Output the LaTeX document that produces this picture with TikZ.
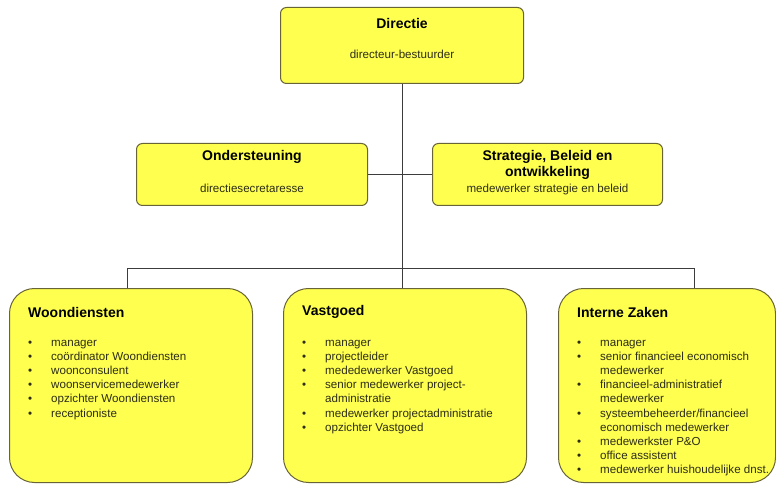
\documentclass[tikz,border=0pt]{standalone}
\usepackage{fontspec}
\setmainfont{Liberation Sans}
\usepackage{tikz}
\usetikzlibrary{positioning,calc}

\definecolor{boxyellow}{RGB}{255,255,80}
\definecolor{boxline}{RGB}{105,100,55}
\definecolor{wirecol}{RGB}{60,60,60}
\definecolor{txtcol}{RGB}{45,45,25}

\newcommand{\itemfont}{\fontsize{11.6}{14.2}\selectfont}

\begin{document}
\begin{tikzpicture}[%
    x=1pt,
    y=-1pt,
    unit/.style={draw=boxline, fill=boxyellow, line width=1pt, rounded corners=6pt,
      inner sep=0pt, anchor=north west},
    dept/.style={draw=boxline, fill=boxyellow, line width=1pt, rounded corners=25pt,
      inner sep=0pt, anchor=north west, minimum height=194pt},
    head/.style={font=\fontsize{14}{16}\selectfont\bfseries, inner sep=0pt, align=center},
    sub/.style={font=\itemfont, text=txtcol, inner sep=0pt},
    list/.style={font=\itemfont, text=txtcol, inner sep=0pt, anchor=north west},
    wire/.style={draw=wirecol, line width=0.9pt}
  ]
  \useasboundingbox (0,0) rectangle (776,486);

  % boxes
  \node[unit, minimum width=243pt, minimum height=76pt] (dir) at (280,7){};
  \node[unit, minimum width=231pt, minimum height=62pt] (ond) at (136,143){};
  \node[unit, minimum width=230pt, minimum height=62pt] (strat) at (432,143){};
  \node[dept, minimum width=243pt] (woon) at (9,288){};
  \node[dept, minimum width=243pt] (vast) at (283,288){};
  \node[dept, minimum width=217pt] (intz) at (558,288){};

  % lines
  \coordinate (busL) at (127,268);
  \coordinate (busR) at (694,268);
  \draw[wire] (dir.south) -- (dir.south |- vast.north);
  \draw[wire] (ond.east) -- (strat.west);
  \draw[wire] (woon.north -| busL) -- (busL) -- (busR) -- (intz.north -| busR);

  % texts
  \node[head] (dirT) at ($(dir.north)+(0,16)$) {Directie};
  \node[sub] (dirS) at ($(dir.north)+(0,47)$) {directeur-bestuurder};
  \node[head] (ondT) at ($(ond.north)+(0,14)$) {Ondersteuning};
  \node[sub] (ondS) at ($(ond.north)+(0,45)$) {directiesecretaresse};
  \node[head] (stratT) at ($(strat.north)+(0,22)$) {Strategie, Beleid en\\ontwikkeling};
  \node[sub] (stratS) at ($(strat.north)+(0,47)$) {medewerker strategie en beleid};

  \node[head, anchor=west] (woonT) at ($(woon.north west)+(19,24)$) {Woondiensten};
  \node[head, anchor=west] (vastT) at ($(vast.north west)+(19,24)$) {Vastgoed};
  \node[head, anchor=west] (intzT) at ($(intz.north west)+(19,24)$) {Interne Zaken};

  \node[list] (woonL) at ($(woon.north west)+(19,48)$) {%
    \begin{tabular}{@{}p{23pt}@{}l@{}}
      \textbullet & manager\\
      \textbullet & coördinator Woondiensten\\
      \textbullet & woonconsulent\\
      \textbullet & woonservicemedewerker\\
      \textbullet & opzichter Woondiensten\\
      \textbullet & receptioniste
    \end{tabular}};
  \node[list] (vastL) at ($(vast.north west)+(19,48)$) {%
    \begin{tabular}{@{}p{23pt}@{}l@{}}
      \textbullet & manager\\
      \textbullet & projectleider\\
      \textbullet & mededewerker Vastgoed\\
      \textbullet & senior medewerker project-\\
                  & administratie\\
      \textbullet & medewerker projectadministratie\\
      \textbullet & opzichter Vastgoed
    \end{tabular}};
  \node[list] (intzL) at ($(intz.north west)+(19,48)$) {%
    \begin{tabular}{@{}p{23pt}@{}l@{}}
      \textbullet & manager\\
      \textbullet & senior financieel economisch\\
                  & medewerker\\
      \textbullet & financieel-administratief\\
                  & medewerker\\
      \textbullet & systeembeheerder/financieel\\
                  & economisch medewerker\\
      \textbullet & medewerkster P\&O\\
      \textbullet & office assistent\\
      \textbullet & medewerker huishoudelijke dnst.
    \end{tabular}};

\end{tikzpicture}
\end{document}
